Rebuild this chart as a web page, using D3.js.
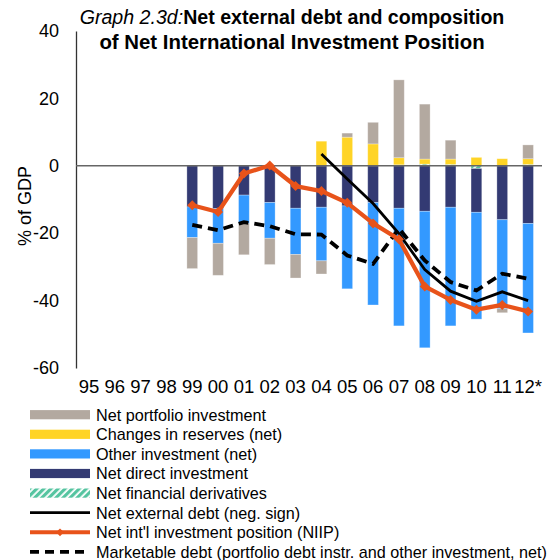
<!DOCTYPE html>
<html><head><meta charset="utf-8">
<script src="https://cdn.jsdelivr.net/npm/d3@7/dist/d3.min.js"></script>
<style>
body{margin:0;background:#fff;}
svg{display:block;font-family:"Liberation Sans",Arial,sans-serif;}
</style></head>
<body><svg id="chart" width="551" height="560"></svg>
<script>
const years = ["95","96","97","98","99","00","01","02","03","04","05","06","07","08","09","10","11","12*"];
const portfolio   = [0,0,0,0,-9.2,-9.5,-9.3,-7.8,-7.0,-3.9,1.2,6.4,23.1,16.3,5.6,0,-1.2,4.1];
const reserves    = [0,0,0,0,0,0,0,0,0,7.3,8.5,6.5,2.1,1.5,1.6,2.5,2.1,1.7];
const other       = [0,0,0,0,-9.1,-10.3,-8.4,-10.6,-13.7,-15.9,-24.6,-30.4,-34.9,-40.5,-35.2,-31.7,-26.4,-32.5];
const direct      = [0,0,0,0,-12.2,-12.7,-8.7,-10.9,-12.6,-12.3,-11.9,-10.9,-12.6,-13.5,-12.3,-13.0,-16.0,-17.1];
const derivatives = [0,0,0,0,0,0,0,0,0,0,0,0,0.3,0.5,0.4,-0.8,0,0.4];
const extDebt     = [null,null,null,null,null,null,null,null,null,3.5,-3.9,-11.2,-20.1,-30.8,-37.2,-40.2,-37.4,-40.0];
const niip        = [null,null,null,null,-11.7,-13.7,-2.3,0.1,-6.0,-7.5,-11.0,-17.1,-21.8,-35.8,-39.8,-42.7,-41.3,-43.2];
const marketable  = [null,null,null,null,-17.5,-19.1,-16.7,-17.9,-20.3,-20.4,-26.6,-29.1,-18.6,-28.1,-34.5,-37.0,-32.0,-33.5];
const yTicks = [40,20,0,-20,-40,-60];

const C = {portfolio:"#B3A9A0", reserves:"#FFD426", other:"#3399FF", direct:"#333A73", derivatives:"#55C4A0", orange:"#E8531A"};

const svg = d3.select("#chart");
const defs = svg.append("defs");
const pat = defs.append("pattern").attr("id","hatch").attr("patternUnits","userSpaceOnUse")
  .attr("width",5).attr("height",5).attr("patternTransform","rotate(45)");
pat.append("rect").attr("width",5).attr("height",5).attr("fill",C.derivatives);
pat.append("rect").attr("x",3.2).attr("width",1.8).attr("height",5).attr("fill","#fff");

const x = d3.scaleBand().domain(years).range([76,541]).paddingInner(0.585).paddingOuter(0.2925);
const y = d3.scaleLinear().domain([-60,40]).range([368,31]);
const cx = d => x(d) + x.bandwidth()/2;

const table = years.map((yr,i)=>({year:yr, derivatives:derivatives[i], direct:direct[i], reserves:reserves[i], other:other[i], portfolio:portfolio[i]}));
const keys = ["derivatives","direct","reserves","other","portfolio"];
const series = d3.stack().keys(keys).offset(d3.stackOffsetDiverging)(table);

const gBars = svg.append("g");
series.forEach(s=>{
  gBars.selectAll(null).data(s.filter(d=>d[1]!==d[0])).join("rect")
    .attr("x",d=>x(d.data.year)).attr("width",x.bandwidth())
    .attr("y",d=>y(Math.max(d[0],d[1]))).attr("height",d=>Math.abs(y(d[0])-y(d[1])))
    .attr("fill", s.key==="derivatives" ? "url(#hatch)" : C[s.key])
    .attr("stroke","#fff").attr("stroke-opacity",0.35).attr("stroke-width",0.8);
});

// y axis
const yAxis = d3.axisLeft(y).tickValues(yTicks).tickSize(0).tickPadding(17).tickFormat(d=>String(d));
const gy = svg.append("g").attr("transform","translate(76,0)").call(yAxis);
gy.select(".domain").attr("stroke","#333").attr("stroke-width",1.3);
gy.selectAll("text").attr("font-size",18).attr("fill","#000").attr("font-family","Liberation Sans, Arial, sans-serif");

// zero line
svg.append("line").attr("x1",76).attr("x2",542).attr("y1",y(0)).attr("y2",y(0))
  .attr("stroke","#666").attr("stroke-width",1.5);

// x axis labels
const xAxis = d3.axisBottom(x).tickSize(0).tickPadding(12);
const gx = svg.append("g").attr("transform","translate(0,368)").call(xAxis);
gx.select(".domain").remove();
gx.selectAll("text").attr("font-size",18.5).attr("fill","#000").attr("font-family","Liberation Sans, Arial, sans-serif");

// lines
const line = d3.line().defined(d=>d.v!==null).x(d=>cx(d.year)).y(d=>y(d.v));
const pts = arr => years.map((yr,i)=>({year:yr, v:arr[i]}));

svg.append("path").datum(pts(marketable)).attr("d",line).attr("fill","none")
  .attr("stroke","#000").attr("stroke-width",3.8).attr("stroke-dasharray","10,6");
svg.append("path").datum(pts(extDebt)).attr("d",line).attr("fill","none")
  .attr("stroke","#000").attr("stroke-width",2.8);
svg.append("path").datum(pts(niip)).attr("d",line).attr("fill","none")
  .attr("stroke",C.orange).attr("stroke-width",4.3).attr("stroke-linejoin","round");
svg.selectAll(null).data(pts(niip).filter(d=>d.v!==null)).join("path")
  .attr("d", d3.symbol().type(d3.symbolSquare).size(50))
  .attr("transform",d=>`translate(${cx(d.year)},${y(d.v)}) rotate(45)`)
  .attr("fill",C.orange);

// y title
svg.append("text").attr("transform","translate(31,206) rotate(-90)")
  .attr("text-anchor","middle").attr("font-size",18).text("% of GDP");

// title
const t = svg.append("text").attr("text-anchor","middle").attr("font-size",19.6);
t.append("tspan").attr("x",292).attr("y",24).attr("font-style","italic").text("Graph 2.3d:");
t.append("tspan").attr("font-weight","bold").text("Net external debt and composition");
t.append("tspan").attr("x",292).attr("y",49).attr("font-weight","bold").attr("font-size",20.4).text("of Net International Investment Position");

// legend
const legend = [
  {label:"Net portfolio investment", type:"rect", fill:C.portfolio},
  {label:"Changes in reserves (net)", type:"rect", fill:C.reserves},
  {label:"Other investment (net)", type:"rect", fill:C.other},
  {label:"Net direct investment", type:"rect", fill:C.direct},
  {label:"Net financial derivatives", type:"rect", fill:"url(#hatch)"},
  {label:"Net external debt (neg. sign)", type:"line"},
  {label:"Net int'l investment position (NIIP)", type:"niip"},
  {label:"Marketable debt (portfolio debt instr. and other investment, net)", type:"dash"}
];
const gl = svg.append("g");
legend.forEach((d,i)=>{
  const cy = 414.7 + i*19.6;
  const g = gl.append("g");
  if(d.type==="rect"){
    g.append("rect").attr("x",30).attr("y",cy-4.6).attr("width",60).attr("height",9.2).attr("fill",d.fill);
  } else if(d.type==="line"){
    g.append("line").attr("x1",30).attr("x2",90).attr("y1",cy).attr("y2",cy).attr("stroke","#000").attr("stroke-width",2.8);
  } else if(d.type==="niip"){
    g.append("line").attr("x1",30).attr("x2",90).attr("y1",cy).attr("y2",cy).attr("stroke",C.orange).attr("stroke-width",4);
    g.append("path").attr("d",d3.symbol().type(d3.symbolSquare).size(30)).attr("transform",`translate(60,${cy}) rotate(45)`).attr("fill",C.orange);
  } else {
    g.append("line").attr("x1",30).attr("x2",90).attr("y1",cy).attr("y2",cy).attr("stroke","#000").attr("stroke-width",3.8).attr("stroke-dasharray","9,6");
  }
  g.append("text").attr("x",96).attr("y",cy).attr("dy","0.36em").attr("font-size",16.2).text(d.label);
});
</script></body></html>
